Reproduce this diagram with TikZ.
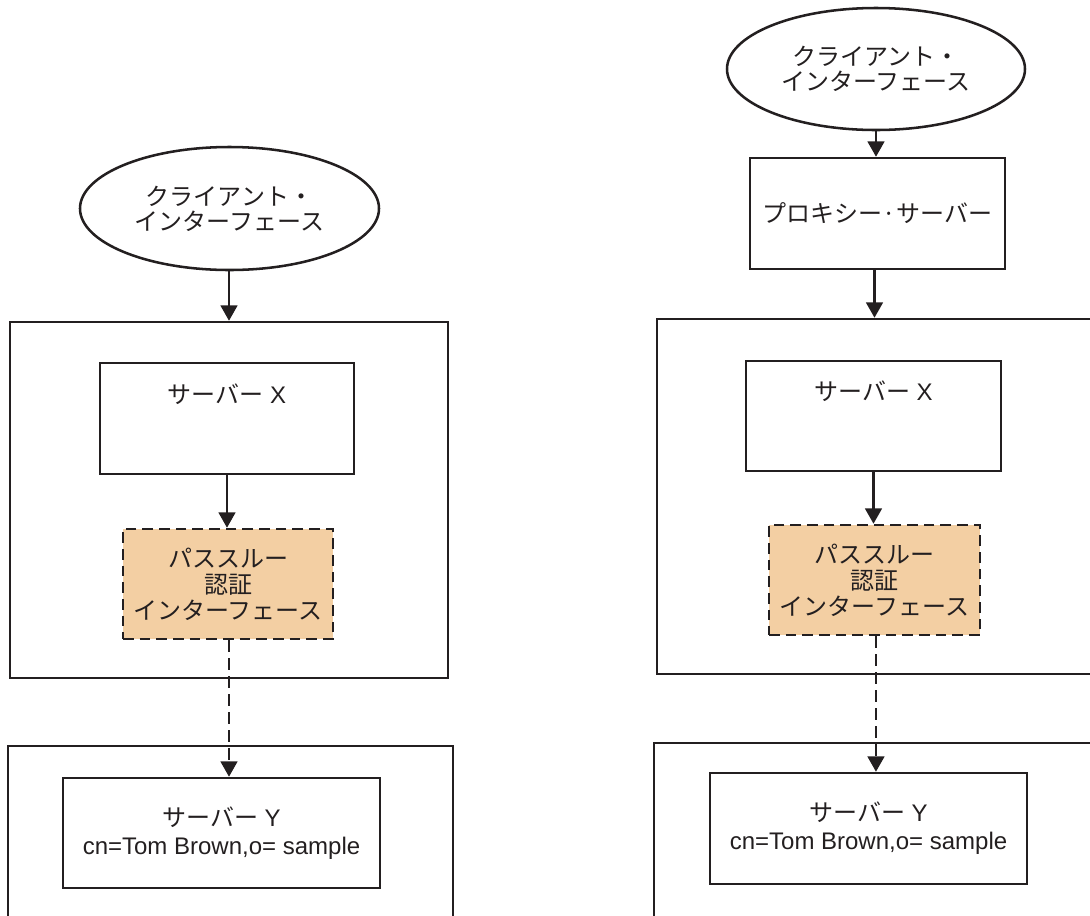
\documentclass[tikz,border=0pt]{standalone}
\usepackage{fontspec}
\setmainfont{Liberation Sans}
\newfontfamily\cjk{Noto Sans CJK JP}
\usetikzlibrary{arrows.meta,shapes.geometric}
\definecolor{ink}{HTML}{231F20}
\definecolor{peach}{HTML}{F3CFA3}
\tikzset{
  basebox/.style={draw=ink, line width=1.9pt, rectangle, inner sep=0pt, align=center,
    font=\fontsize{18pt}{19.5pt}\selectfont, text=ink},
  outerbox/.style={draw=ink, line width=1.9pt, rectangle, inner sep=0pt},
  passbox/.style={basebox, fill=peach, dash pattern=on 8pt off 4.5pt},
  clientell/.style={draw=ink, line width=1.9pt, ellipse, inner sep=0pt, align=center,
    font=\fontsize{18pt}{18.75pt}\selectfont, text=ink},
  arr/.style={draw=ink, line width=1.9pt, -{Triangle[width=12.5pt,length=11.5pt]}},
  darr/.style={arr, dash pattern=on 8.5pt off 5pt},
}
\begin{document}
\begin{tikzpicture}[x=0.75pt,y=-0.75pt]
\useasboundingbox (0,0) rectangle (1090,915);
\clip (0,0) rectangle (1090,915);

% ---------- left diagram ----------
\node[outerbox, minimum width={438*0.75pt}, minimum height={356*0.75pt}] (ob1) at (229,500) {};
\node[outerbox, minimum width={445*0.75pt}, minimum height={173*0.75pt}] (ob2) at (230.5,832.5) {};
\node[clientell, minimum width={299*0.75pt}, minimum height={123*0.75pt}] (cl1) at (229.5,208.5)
  {\cjk クライアント・\\\cjk インターフェース};
\node[basebox, minimum width={254*0.75pt}, minimum height={111*0.75pt}, text height=13pt, text depth=36pt] (sx1) at (227,418.5)
  {{\cjk サーバー} X};
\node[passbox, minimum width={210*0.75pt}, minimum height={110*0.75pt}] (pa1) at (228,584)
  {\cjk パススルー\\\cjk 認証\\\cjk インターフェース};
\node[basebox, minimum width={317*0.75pt}, minimum height={110*0.75pt}] (sy1) at (221.5,833)
  {{\cjk サーバー} Y\\[1.5pt]cn=Tom Brown,o= sample};

\draw[arr] (cl1.south -| ob1.north) -- (ob1.north);
\draw[arr] (sx1.south) -- (sx1.south |- pa1.north);
\draw[darr] ([xshift=0.75pt]pa1.south) -- ([xshift=0.75pt]pa1.south |- sy1.north);

% ---------- right diagram ----------
\node[outerbox, minimum width={435*0.75pt}, minimum height={355*0.75pt}] (ob3) at (874.5,496.5) {};
\node[outerbox, minimum width={438*0.75pt}, minimum height={174*0.75pt}] (ob4) at (873,830) {};
\node[clientell, minimum width={298*0.75pt}, minimum height={122*0.75pt}] (cl2) at (876,69)
  {\cjk クライアント・\\\cjk インターフェース};
\node[basebox, minimum width={255*0.75pt}, minimum height={111*0.75pt}] (px2) at (877.5,213.5)
  {\cjk プロキシー·サーバー};
\node[basebox, minimum width={255*0.75pt}, minimum height={110*0.75pt}, text height=13pt, text depth=36pt] (sx2) at (873.5,416)
  {{\cjk サーバー} X};
\node[passbox, minimum width={211*0.75pt}, minimum height={110*0.75pt}] (pa2) at (874.5,580)
  {\cjk パススルー\\\cjk 認証\\\cjk インターフェース};
\node[basebox, minimum width={317*0.75pt}, minimum height={111*0.75pt}] (sy2) at (868.5,828.5)
  {{\cjk サーバー} Y\\[1.5pt]cn=Tom Brown,o= sample};

\draw[arr] (cl2.south) -- (cl2.south |- px2.north);
\draw[arr] (px2.south -| ob3.north) -- (ob3.north);
\draw[arr] (sx2.south) -- (sx2.south |- pa2.north);
\draw[darr] ([xshift=1.1pt]pa2.south) -- ([xshift=1.1pt]pa2.south |- sy2.north);
\end{tikzpicture}
\end{document}
